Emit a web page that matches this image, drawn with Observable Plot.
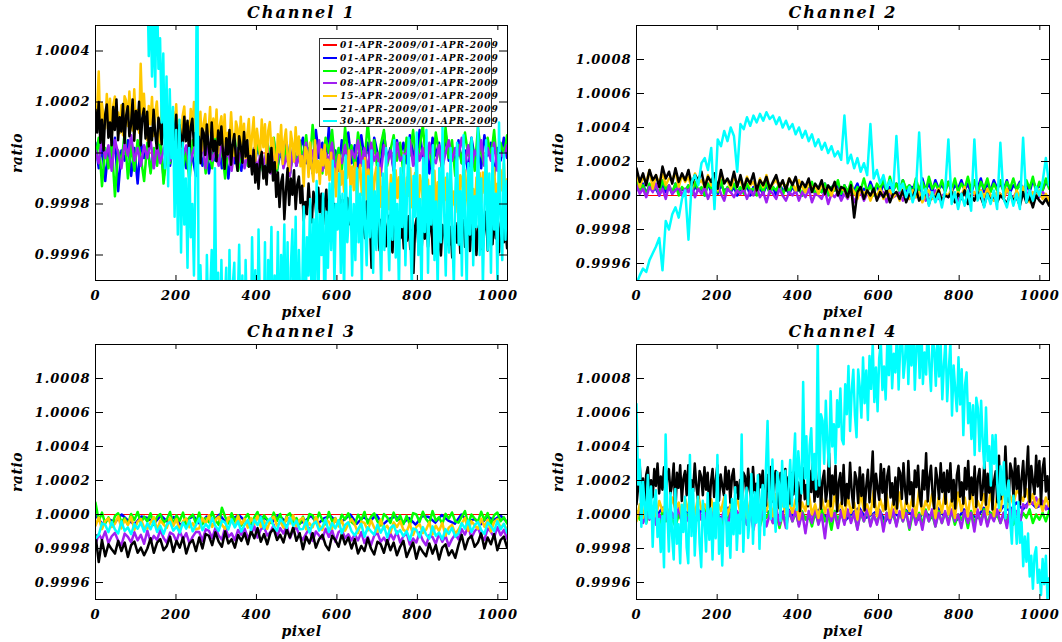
<!DOCTYPE html>
<html>
<head>
<meta charset="utf-8">
<script src="https://cdn.jsdelivr.net/npm/d3@7"></script>
<script src="https://cdn.jsdelivr.net/npm/@observablehq/plot@0.6"></script>
<style>
  html, body { margin: 0; padding: 0; background: #fff; }
  #page { position: relative; width: 1062px; height: 642px; overflow: hidden; background: #fff; }
  #legend { position: absolute; left: 319px; top: 38px; width: 173px; height: 89px; box-sizing: border-box;
            border: 1px solid #333; background: #fff; z-index: 5; overflow: visible; }
  .lrow { height: 12.67px; display: flex; align-items: center; white-space: nowrap; }
  .lsw { width: 14px; height: 2px; margin-left: 3px; flex: none; }
  .ltx { margin-left: 3px; font-family: "DejaVu Serif"; font-style: italic; font-weight: bold; font-size: 9px; letter-spacing: 1px; color: #000; }
</style>
</head>
<body>
<div id="page"></div>
<script>
// ---------- labels, colours, ticks ----------
const seriesLabels = ["01-APR-2009/01-APR-2009","01-APR-2009/01-APR-2009","02-APR-2009/01-APR-2009","08-APR-2009/01-APR-2009","15-APR-2009/01-APR-2009","21-APR-2009/01-APR-2009","30-APR-2009/01-APR-2009"];
const seriesColors = ["#ff0000","#0000ff","#00ff00","#a020f0","#ffc800","#000000","#00ffff"];
const titles = ["Channel 1","Channel 2","Channel 3","Channel 4"];
const xTicks = [0,200,400,600,800,1000];
const yTicksCh1 = [0.9996,0.9998,1.0000,1.0002,1.0004];
const yTicksOther = [0.9996,0.9998,1.0000,1.0002,1.0004,1.0006,1.0008];
const pixelMax = 1023;

// ---------- values: deviation of ratio from 1, in parts per million ----------
const flat = [0, 0];

// Channel 1
const ch1_blue = [40,-60,30,-110,20,-40,60,-150,10,-30,50,-90,20,-120,40,-20,
30,-70,10,-40,60,-100,20,-50,40,-30,-80,10,-60,30,-20,-90,
20,-50,40,-80,0,-30,50,-60,10,-100,30,-40,20,-70,40,-30,
10,-60,30,-20,-90,20,-40,50,-70,0,-30,40,-80,20,-50,10,
60,-40,20,-80,90,-20,40,-60,100,-30,10,-70,50,-10,80,-40,
30,-60,70,-20,40,-90,60,0,-50,80,-30,20,-70,50,-10,40,
-40,70,0,-60,90,-20,30,-80,60,-10,40,-70,80,-30,20,-50,
50,-40,10,-80,60,-20,30,-60,70,-10,40,-90,20,-30,60,-20];
const ch1_green = [-20,60,-130,20,-60,40,-170,10,-40,80,-100,30,-70,50,-20,-110,
40,-80,20,-50,70,-120,0,-40,60,-90,30,-60,10,-110,50,-30,
-20,40,-80,10,-60,70,-40,20,-100,30,-10,60,-70,0,40,-50,
20,-60,50,-30,-90,40,-10,60,-70,20,-40,30,-80,10,-20,50,
-30,70,-60,110,-20,40,-80,60,0,90,-50,20,-70,100,-10,30,
-60,80,0,-40,120,-20,50,-70,30,90,-50,10,70,-30,40,-80,
60,-10,90,-50,20,110,-40,30,-70,80,0,-60,100,-20,50,-90,
30,-40,80,-10,50,-70,100,0,-50,60,-20,90,-60,40,-10,70];
const ch1_purple = [10,-40,60,-20,30,-70,50,0,-60,40,-10,70,-30,20,-50,30,
-20,50,-60,30,-40,10,60,-30,20,-70,40,-10,30,-50,0,40,
-10,30,-60,40,-30,10,-50,50,-20,0,-70,30,-40,20,-60,10,
-30,20,-70,10,-50,30,-80,0,-40,40,-60,-10,-90,20,-50,0,
-30,40,-60,10,-40,50,-70,0,-30,40,-80,-10,-40,30,-60,10,
-20,50,-50,20,-70,40,-30,0,-90,30,-40,10,-60,40,-30,-10,
0,50,-50,30,-30,20,-70,40,-20,-40,30,-60,0,50,-30,20,
-10,60,-40,30,-60,10,-20,50,-50,20,-30,40,-70,0,-20,30];
const ch1_gold = [87,168,320,69,195,141,96,231,123,213,60,186,222,105,159,78,
187,70,223,205,106,241,142,88,250,124,169,79,350,151,232,115,
49,184,112,220,67,157,202,94,40,193,148,76,211,103,175,58,
164,83,191,47,128,20,146,182,65,119,38,173,92,200,56,137,
54,162,9,117,153,36,81,180,18,135,63,171,0,108,144,27,
151,-2,79,25,160,52,-11,124,97,7,142,34,115,-20,70,133,
-13,68,140,-31,95,41,-4,131,23,113,-40,86,122,5,59,-22,
-61,74,2,110,-43,47,92,-16,-70,83,38,-34,101,-7,65,-52,
-13,-130,23,5,-94,41,-58,-112,50,-76,-31,-121,14,-49,32,-85,
-26,-107,1,-143,-62,-170,-44,-8,-125,-71,-152,-17,-98,10,-134,-53,
-146,-38,-191,-83,-47,-164,-119,-20,-182,-65,-137,-29,-200,-92,-56,-173,
-59,-212,-131,-185,-50,-158,-221,-86,-113,-203,-68,-176,-95,-230,-140,-77,
-231,-96,-168,-60,-213,-123,-78,-186,-240,-87,-132,-204,-69,-177,-105,-222,
-223,-142,-70,-241,-115,-169,-214,-79,-187,-97,-250,-124,-88,-205,-151,-232,
-123,-240,-87,-105,-204,-69,-168,-222,-60,-186,-141,-231,-96,-159,-78,-195,
-76,-157,-49,-193,-112,-220,-94,-58,-175,-121,-202,-67,-148,-40,-184,-103];
const ch1_black = [170,80,200,40,130,10,150,190,60,120,30,180,90,210,50,140,
84,192,39,147,183,66,111,210,48,165,93,201,30,138,174,57,
162,26,98,50,170,74,18,138,114,34,154,58,130,10,90,146,
14,86,150,-2,110,62,22,142,46,126,-10,102,134,30,78,6,
64,-40,96,80,-8,112,24,-24,120,8,48,-32,88,32,104,0,
-62,58,-6,90,-46,34,74,-22,-70,66,26,-38,82,-14,50,-54,
-12,-84,12,-116,-44,-140,-28,4,-100,-52,-124,-4,-76,20,-108,-36,
-172,-76,-212,-116,-84,-260,-148,-60,-204,-100,-164,-68,-220,-124,-92,-196,
-128,-264,-192,-240,-120,-216,-272,-152,-176,-256,-136,-232,-160,-280,-200,-144,
-296,-224,-160,-312,-200,-248,-288,-168,-264,-184,-320,-208,-176,-280,-232,-304,
-246,-350,-214,-230,-318,-198,-286,-334,-190,-302,-262,-450,-222,-278,-206,-310,
-382,-262,-326,-230,-366,-286,-246,-342,-390,-254,-294,-358,-238,-334,-270,-374,
-272,-344,-248,-376,-304,-470,-288,-256,-360,-312,-384,-264,-336,-240,-368,-296,
-258,-394,-322,-370,-250,-346,-402,-282,-306,-386,-266,-362,-290,-410,-330,-274,
-352,-256,-392,-296,-264,-368,-328,-240,-384,-280,-344,-248,-400,-304,-272,-376,
-366,-294,-230,-382,-270,-318,-358,-238,-334,-254,-390,-278,-246,-350,-302,-374];
const ch1_cyan = [900,780,1000,820,950,760,880,990,800,930,850,1000,770,910,840,960,
880,760,990,810,940,720,870,1000,790,920,830,980,740,860,800,650,
720,380,610,300,540,260,680,330,450,120,390,-60,300,-130,250,-20,
180,-250,90,-320,130,-390,40,-280,-100,-450,20,-330,-200,-480,-60,950,
-800,-440,-650,-520,-900,-400,-700,-560,-380,-850,-60,-700,-470,-900,-420,-760,
-600,-450,-900,-380,-750,-520,-430,-880,-620,-360,-800,-480,-950,-420,-700,-530,
-850,-330,-700,-460,-900,-300,-640,-520,-780,-350,-950,-420,-600,-290,-820,-480,
-700,-310,-880,-400,-600,-280,-760,-350,-930,-450,-300,-680,-250,-800,-380,-620,
-560,-210,-700,-330,-480,-180,-650,-260,-520,-110,-600,-240,-400,-160,-720,-230,
-450,-120,-380,-30,-520,-200,-300,-80,-470,-160,-560,-10,-350,-250,-130,-480,
-200,-420,-60,-350,-160,-500,-30,-280,-440,-90,-330,10,-470,-150,-380,-40,
-300,-520,-80,-380,20,-260,-460,-120,-340,50,-410,-200,-540,-60,-290,-10,
-440,-150,60,-330,-520,-90,-250,80,-400,-180,-560,-20,-310,90,-470,-130,
-280,30,-420,-190,-540,-60,-350,100,-230,-480,-80,-390,20,-300,-520,-140,
40,-360,-150,-480,70,-260,-530,-40,-320,60,-440,-170,-290,100,-400,-100,
-520,-210,50,-380,-80,-470,20,-300,-160,-500,120,-250,-420,0,-340,-110];

// Channel 2
const ch2_blue = [50,20,70,10,60,30,40,0,60,20,50,10,70,30,40,20,
60,10,50,30,40,0,70,20,50,10,60,30,40,20,50,0,
40,20,60,0,50,30,40,10,60,20,50,0,70,30,40,10,
50,20,40,0,60,30,50,10,40,20,70,10,50,30,60,0,
60,20,50,30,70,10,40,20,80,30,60,10,70,20,50,30,
70,30,90,20,60,40,80,10,100,30,70,20,90,40,60,30,
80,20,60,40,90,30,70,10,80,40,100,20,70,30,90,40,
70,30,90,20,60,40,80,30,70,20,90,40,60,30,80,50];
const ch2_green = [80,20,60,0,70,30,50,10,90,40,60,20,70,0,50,30,
60,10,80,30,50,0,70,40,60,20,90,10,50,30,70,20,
50,10,70,30,40,0,60,20,80,10,50,30,70,0,60,20,
70,20,50,0,60,30,80,10,40,20,70,0,50,30,90,10,
60,20,80,10,50,30,100,20,60,0,70,40,90,20,110,30,
70,20,90,40,60,10,100,30,80,20,110,40,70,30,90,20,
80,30,100,20,70,40,110,30,90,10,80,40,100,20,70,30,
90,20,80,40,100,30,70,10,90,40,110,20,80,30,100,40];
const ch2_purple = [60,10,40,-10,50,20,70,0,40,-20,60,10,30,50,0,40,
20,60,-10,40,10,50,-20,30,0,60,10,-30,40,20,-10,30,
10,40,-20,30,0,50,-10,20,-40,30,10,-20,40,0,-30,20,
0,30,-30,20,-10,40,-40,10,0,-20,30,-50,10,-10,20,-30,
10,-20,30,-40,0,20,-30,10,-10,30,-20,0,20,-40,10,-10,
0,20,-30,10,-20,30,-10,0,20,-30,10,-10,30,-20,0,10,
-10,20,0,-30,10,30,-20,0,20,-10,30,-20,10,0,-30,20,
10,-20,30,0,-10,20,-30,10,0,30,-20,10,-10,20,0,-20];
const ch2_gold = [140,50,110,80,150,40,120,70,130,60,100,90,140,50,120,80,
110,40,130,70,90,50,120,60,100,30,130,80,90,40,110,70,
90,40,110,60,80,30,100,50,120,40,70,90,50,80,40,100,
70,30,90,50,20,80,40,60,10,70,30,50,0,60,20,40,
30,-10,50,20,-20,40,10,30,-30,20,0,40,-20,10,30,-10,
20,-30,40,0,-20,30,-10,20,-40,10,30,-20,0,40,-30,10,
0,40,-30,20,-10,50,-40,10,20,-20,30,-10,40,0,-30,20,
10,-20,40,0,-30,30,-10,50,0,-40,20,-10,30,-20,10,-30];
const ch2_black = [160,80,130,60,150,90,120,50,170,100,140,70,160,80,130,90,
150,60,120,90,140,50,110,80,130,40,150,70,100,60,140,50,
120,40,100,70,130,30,90,60,110,40,80,120,50,90,30,100,
60,110,30,80,50,100,20,70,40,90,10,60,30,80,0,50,
40,-10,60,-130,20,50,-20,30,0,40,-30,20,-10,30,-40,10,
20,-20,30,-40,10,-10,40,-30,0,20,-50,10,-20,30,-30,0,
-10,20,-40,10,-20,30,-50,0,-30,20,-10,-60,10,-30,0,-40,
0,-20,-50,10,-30,-10,-60,20,-40,-10,-70,0,-30,-50,-20,-60];
const ch2_cyan = [-520,-470,-430,-450,-380,-340,-300,-250,-440,-150,-200,-110,-70,-130,-20,30,
-260,80,120,60,190,220,150,280,-80,330,290,380,320,400,350,140,
420,390,460,410,470,430,480,440,490,450,470,420,460,400,440,390,
420,360,400,340,380,320,360,290,330,270,310,250,290,230,260,210,
470,190,240,160,220,140,190,120,420,100,150,70,120,40,90,20,
350,30,70,-10,50,-40,30,370,-20,40,-60,20,-40,10,-70,30,
330,-50,20,-80,10,-60,30,-90,330,-30,20,-70,10,-50,30,-80,
310,-20,-70,20,-60,10,-80,340,-40,30,-30,50,0,80,220,60];

// Channel 3
const ch3_blue = [-3,-54,-27,-45,0,-36,-57,-12,-21,-51,-6,-42,-15,-60,-30,-9,
-57,-12,-36,0,-51,-21,-6,-42,-60,-9,-24,-48,-3,-39,-15,-54,
-42,-6,-57,-21,-9,-48,-33,0,-54,-15,-39,-3,-60,-24,-12,-51,
-21,-60,-9,-15,-48,-3,-36,-54,0,-42,-27,-57,-12,-33,-6,-45];
const ch3_green = [70,-37,11,-53,-17,-65,-9,7,-45,-21,-57,3,-33,15,-49,-13,
-41,7,-61,-13,3,-49,-29,15,-57,-5,-37,11,-65,-17,-1,-53,
11,-57,-21,-45,15,-33,-61,40,-13,-53,7,-41,-5,-65,-25,3,
-53,-17,15,-61,-5,-29,-49,11,-37,3,-65,-9,7,-45,-21,-57,
-13,-65,3,-5,-49,11,-33,-57,15,-41,-21,-61,-1,-29,7,-45,
-61,-1,-33,15,-53,-13,7,-41,-65,3,-17,-49,11,-37,-5,-57,
-8,-60,8,0,-44,16,-28,-52,20,-36,-16,-56,4,-24,12,-40,
-48,-12,20,-56,0,-24,-44,16,-32,8,-60,-4,12,-40,-16,-52];
const ch3_purple = [-176,-116,-148,-100,-168,-128,-108,-156,-180,-112,-132,-164,-104,-152,-120,-172,
-94,-162,-126,-150,-90,-138,-166,-106,-118,-158,-98,-146,-110,-170,-130,-102,
-103,-155,-87,-95,-139,-79,-123,-147,-75,-131,-111,-151,-91,-119,-83,-135,
-116,-68,-136,-88,-72,-124,-104,-60,-132,-80,-112,-64,-140,-92,-76,-128,
-148,-112,-80,-156,-100,-124,-144,-84,-132,-92,-160,-104,-88,-140,-116,-152,
-116,-152,-104,-168,-132,-180,-124,-108,-160,-136,-172,-112,-148,-100,-164,-128,
-109,-177,-141,-165,-105,-153,-181,-121,-133,-173,-113,-161,-125,-185,-145,-117,
-146,-86,-118,-70,-138,-98,-78,-126,-150,-82,-102,-134,-74,-122,-90,-142];
const ch3_gold = [-66,-18,-86,-38,-22,-74,-54,-10,-82,-30,-62,-14,-90,-42,-26,-78,
-83,-47,-15,-91,-35,-59,-79,-19,-67,-27,-95,-39,-23,-75,-51,-87,
-81,-21,-53,-5,-73,-33,-13,-61,-85,-17,-37,-69,-9,-57,-25,-77,
-21,-57,-9,-73,-37,-85,-29,-13,-65,-41,-77,-17,-53,-5,-69,-33,
-19,-87,-51,-75,-15,-63,-91,-31,-43,-83,-23,-71,-35,-95,-55,-27,
-58,-110,-42,-50,-94,-34,-78,-102,-30,-86,-66,-106,-46,-74,-38,-90,
-101,-53,-121,-73,-57,-109,-89,-45,-117,-65,-97,-49,-125,-77,-61,-113,
-88,-52,-20,-96,-40,-64,-84,-24,-72,-32,-100,-44,-28,-80,-56,-92];
const ch3_black = [-120,-280,-150,-245,-175,-205,-230,-155,-215,-165,-250,-180,-160,-225,-195,-240,
-200,-140,-225,-165,-145,-210,-185,-130,-220,-155,-195,-135,-230,-170,-150,-215,
-135,-200,-115,-125,-180,-105,-160,-190,-100,-170,-145,-195,-120,-155,-110,-175,
-95,-140,-80,-160,-115,-175,-105,-85,-150,-120,-165,-90,-135,-75,-155,-110,
-205,-130,-170,-110,-195,-145,-120,-180,-210,-125,-150,-190,-115,-175,-135,-200,
-145,-230,-185,-215,-140,-200,-235,-160,-175,-225,-150,-210,-165,-240,-190,-155,
-250,-205,-165,-260,-190,-220,-245,-170,-230,-180,-265,-195,-175,-240,-210,-255,
-180,-120,-205,-145,-125,-190,-165,-110,-200,-135,-175,-115,-210,-150,-130,-195];
const ch3_cyan = [-140,-120,-52,-60,-104,-44,-88,-112,-40,-96,-76,-116,-56,-84,-48,-100,
-51,-87,-39,-103,-67,-115,-59,-43,-95,-71,-107,-47,-83,-35,-99,-63,
-24,-92,-56,-80,-20,-68,-96,-36,-48,-88,-28,-76,-40,-100,-60,-32,
-91,-31,-63,-15,-83,-43,-23,-71,-95,-27,-47,-79,-19,-67,-35,-87,
-86,-38,-106,-58,-42,-94,-74,-30,-102,-50,-82,-34,-110,-62,-46,-98,
-123,-87,-55,-131,-75,-99,-119,-59,-107,-67,-135,-79,-63,-115,-91,-127,
-98,-150,-82,-90,-134,-74,-118,-142,-70,-126,-106,-146,-86,-114,-78,-130,
-111,-51,-83,-35,-103,-63,-43,-91,-115,-47,-67,-99,-39,-87,-55,-107];

// Channel 4
const ch4_blue = [20,-20,30,-10,40,0,-30,20,10,-40,30,-10,20,-30,40,0,
-20,30,-40,10,20,-30,0,40,-10,20,-30,10,30,-20,0,30,
-30,10,40,-20,0,30,-40,20,-10,30,0,-30,20,-20,40,-10,
10,-30,30,0,-20,40,10,-10,50,20,70,30,80,40,60,30];
const ch4_green = [20,-30,10,-50,30,-20,0,-60,20,-40,10,-30,-70,0,-40,10,
-20,20,-60,0,-30,30,-50,10,-40,20,-80,0,-30,20,-50,10,
-30,20,-60,10,-40,30,-70,0,-20,20,-50,10,-80,0,-30,20,
-40,10,-60,20,-30,0,-70,10,-50,30,-40,0,-90,20,-30,10,
-50,20,-30,0,-80,10,-40,30,-60,0,-50,20,-70,10,-30,0,
-60,10,-40,20,-90,0,-30,10,-60,30,-40,0,-70,20,-50,10,
-40,20,-60,0,-30,10,-80,20,-50,0,-40,30,-60,10,-30,0,
-50,10,-30,20,-60,0,-40,10,-20,30,-50,0,-30,10,-40,20];
const ch4_purple = [-20,30,-50,10,-30,40,-60,0,-40,20,-70,10,-30,40,-50,0,
-40,20,-60,30,-30,10,-80,20,-50,0,-40,30,-70,10,-50,20,
-30,40,-60,10,-90,20,-40,30,-70,0,-50,40,-60,10,-80,20,
-40,30,-70,10,-110,20,-50,40,-60,0,-140,30,-40,10,-80,20,
-60,30,-50,10,-90,20,-40,40,-70,0,-60,20,-100,10,-50,30,
-70,20,-40,10,-80,30,-60,0,-90,20,-40,30,-70,10,-50,20,
-60,30,-40,0,-80,20,-50,10,-100,30,-60,20,-70,0,-40,30,
-50,10,-80,40,-30,20,-60,60,40,90,60,100,50,80,30,70];
const ch4_gold = [-40,60,-20,90,10,50,-10,80,20,60,0,100,30,70,-10,90,
20,80,0,110,30,60,10,90,-10,70,20,100,0,60,30,90,
10,70,-20,80,30,100,0,60,20,90,-10,120,30,70,0,80,
10,90,-30,70,20,130,0,60,-20,100,10,80,-10,120,20,70,
-20,110,10,70,-30,130,20,60,0,140,-10,90,20,120,-20,80,
10,130,-20,90,20,110,-10,150,0,80,30,120,-20,100,10,140,
0,90,-20,130,20,100,-10,150,10,80,30,120,0,140,-10,110,
20,150,40,110,60,140,120,80,150,60,120,40,90,20,100,50];
const ch4_black = [60,157,289,113,212,80,234,278,135,201,102,267,168,300,124,223,
146,278,91,223,267,124,179,300,0,245,157,289,80,212,256,113,
289,102,201,135,300,168,91,256,223,113,278,146,245,10,190,267,
103,202,290,81,235,169,114,279,147,257,70,224,268,125,191,92,
203,60,247,225,104,269,148,82,280,126,181,71,236,159,258,115,
52,232,136,280,76,196,256,112,40,244,184,88,268,124,220,64,
244,118,286,62,188,20,216,272,90,174,48,258,132,300,76,202,
104,272,34,202,258,76,146,360,48,230,118,286,20,188,244,62,
291,53,179,95,305,137,39,249,207,67,277,109,235,25,165,263,
72,198,370,44,240,156,86,296,128,268,30,226,282,100,184,58,
217,35,273,245,91,301,147,63,315,119,189,49,259,161,287,105,
49,259,147,360,77,217,287,119,35,273,203,91,301,133,245,63,
259,133,301,77,203,35,231,287,105,189,63,273,147,315,91,217,
114,282,44,212,268,86,156,310,58,240,128,296,30,198,254,72,
345,90,225,135,400,180,75,300,255,105,330,150,285,60,210,315,
105,240,400,75,285,195,120,345,165,315,60,270,330,135,225,90];
const ch4_cyan = [650,176,322,-72,194,60,-54,232,-22,164,-190,76,142,-132,-26,-220,
-11,-310,470,35,-218,127,-126,-264,150,-172,-57,-287,58,-103,104,-195,
-287,350,-126,150,-241,-11,104,-172,-310,81,-34,-218,127,-149,35,-264,
68,-139,350,-231,-24,-300,22,114,-185,-47,-254,91,-116,160,-208,-1,
-112,470,-219,61,157,-138,-19,238,-172,131,-49,231,-202,78,174,-121,
277,550,105,-27,324,54,-101,250,187,-37,314,44,257,-82,154,321,
52,276,476,28,372,236,124,780,212,460,60,404,508,204,356,148,
1050,171,589,552,299,669,416,283,725,400,531,301,672,515,741,440,
413,766,590,874,491,729,852,584,454,853,746,570,923,655,847,556,
932,739,1009,662,865,607,920,1013,733,870,677,1013,820,1089,743,946,
836,1090,735,989,1075,804,911,1144,768,1043,877,1131,734,988,1074,803,
1129,768,953,823,1134,878,727,1038,971,757,1068,812,997,678,884,1027,
666,851,1013,582,877,731,608,925,647,854,467,761,836,537,655,444,
643,350,687,625,374,669,418,272,630,316,401,171,466,299,468,175,
38,284,116,308,-22,134,200,-40,-172,110,-4,-172,74,-166,-46,-304,
-130,-278,-112,-365,-243,-437,-240,-193,-402,-325,-473,-262,-410,-243,-497,-375];

// ---------- panels (layout only) ----------
const panels = [
  {title: titles[0], yDomain: [0.9995, 1.0005], yTicks: yTicksCh1, left: 0,   top: 0,   ml: 95,  mr: 24, mt: 25, mb: 41,
   series: [flat, ch1_blue, ch1_green, ch1_purple, ch1_gold, ch1_black, ch1_cyan]},
  {title: titles[1], yDomain: [0.9995, 1.0010], yTicks: yTicksOther, left: 531, top: 0,   ml: 105, mr: 13, mt: 25, mb: 41,
   series: [flat, ch2_blue, ch2_green, ch2_purple, ch2_gold, ch2_black, ch2_cyan]},
  {title: titles[2], yDomain: [0.9995, 1.0010], yTicks: yTicksOther, left: 0,   top: 321, ml: 95,  mr: 24, mt: 23, mb: 43,
   series: [flat, ch3_blue, ch3_green, ch3_purple, ch3_gold, ch3_black, ch3_cyan]},
  {title: titles[3], yDomain: [0.9995, 1.0010], yTicks: yTicksOther, left: 531, top: 321, ml: 105, mr: 13, mt: 23, mb: 43,
   series: [flat, ch4_blue, ch4_green, ch4_purple, ch4_gold, ch4_black, ch4_cyan]}
];

const W = 531, H = 321;
const FONT = "DejaVu Serif";
const textStyle = {fontFamily: FONT, fontStyle: "italic", fontWeight: "bold", fill: "#000"};

function toRows(values) {
  return values.map((v, i) => ({pixel: i * pixelMax / (values.length - 1), ratio: 1 + v * 1e-6}));
}

function makePanel(p) {
  const fw = W - p.ml - p.mr, fh = H - p.mt - p.mb;
  const marks = [];
  p.series.forEach((vals, k) => {
    marks.push(Plot.line(toRows(vals), {x: "pixel", y: "ratio", stroke: seriesColors[k], strokeWidth: k === 0 ? 1 : 2.5, clip: true}));
  });
  marks.push(Plot.frame({stroke: "#000", strokeWidth: 1}));
  marks.push(Plot.tickY(p.yTicks, {y: d => d, insetRight: fw - 8, stroke: "#000"}));
  marks.push(Plot.tickY(p.yTicks, {y: d => d, insetLeft: fw - 8, stroke: "#000"}));
  marks.push(Plot.tickX(xTicks, {x: d => d, insetTop: fh - 5, stroke: "#000"}));
  marks.push(Plot.tickX(xTicks, {x: d => d, insetBottom: fh - 5, stroke: "#000"}));
  marks.push(Plot.axisY({ticks: p.yTicks, anchor: "left", tickSize: 0, tickPadding: 5, tickFormat: d => d.toFixed(4), label: null}));
  marks.push(Plot.axisX({ticks: xTicks, anchor: "bottom", tickSize: 0, tickPadding: 10, tickFormat: d => String(d), label: null}));
  marks.push(Plot.text([p.title], {text: d => d, frameAnchor: "top", lineAnchor: "middle", dy: -13, fontSize: 16, ...textStyle}));
  marks.push(Plot.text(["pixel"], {text: d => d, frameAnchor: "bottom", lineAnchor: "middle", dy: 32, fontSize: 14, ...textStyle}));
  marks.push(Plot.text(["ratio"], {text: d => d, frameAnchor: "left", textAnchor: "middle", lineAnchor: "middle", dx: -78, rotate: -90, fontSize: 14, ...textStyle}));
  const svg = Plot.plot({
    width: W, height: H,
    marginLeft: p.ml, marginRight: p.mr, marginTop: p.mt, marginBottom: p.mb,
    x: {domain: [0, 1024]},
    y: {domain: p.yDomain},
    style: {fontFamily: FONT, fontSize: "13px", fontStyle: "italic", fontWeight: "bold", letterSpacing: "1px", background: "transparent", color: "#000", overflow: "visible"},
    marks
  });
  d3.select(svg).selectAll("text").each(function() {
    const t = this.textContent;
    if (t.startsWith("Channel")) this.setAttribute("letter-spacing", "2");
    else if (t === "pixel" || t === "ratio") this.setAttribute("letter-spacing", "0.5");
  });
  svg.style.position = "absolute";
  svg.style.left = p.left + "px";
  svg.style.top = p.top + "px";
  svg.style.maxWidth = "none";
  return svg;
}

const page = document.getElementById("page");
panels.forEach(p => page.appendChild(makePanel(p)));

// legend inside Channel 1
const legend = document.createElement("div");
legend.id = "legend";
seriesLabels.forEach((lab, k) => {
  const row = document.createElement("div");
  row.className = "lrow";
  const sw = document.createElement("div");
  sw.className = "lsw";
  sw.style.background = seriesColors[k];
  const tx = document.createElement("span");
  tx.className = "ltx";
  tx.textContent = lab;
  row.appendChild(sw);
  row.appendChild(tx);
  legend.appendChild(row);
});
page.appendChild(legend);
</script>
</body>
</html>
